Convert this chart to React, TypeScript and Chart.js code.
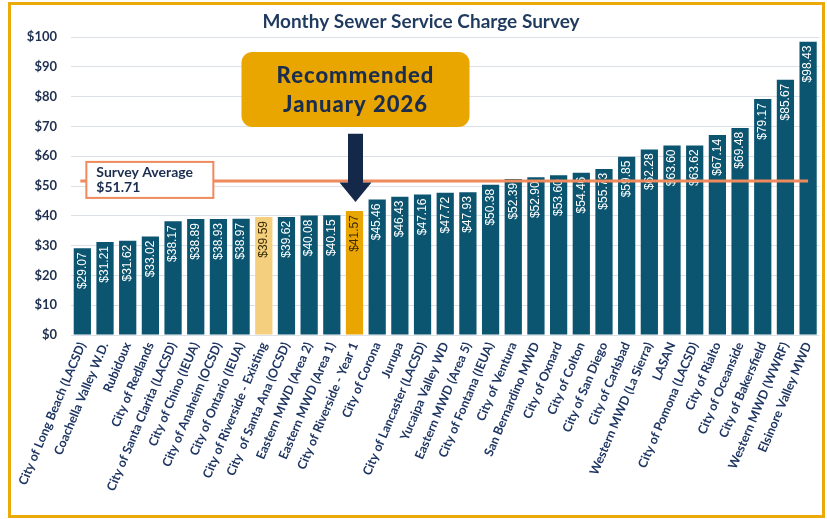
import React, { useEffect, useRef } from "react";
import { Chart, registerables } from "chart.js";

Chart.register(...registerables);

const categories: string[] = [
  "City of Long Beach (LACSD)",
  "Coachella Valley W.D.",
  "Rubidoux",
  "City of Redlands",
  "City of Santa Clarita (LACSD)",
  "City of Chino (IEUA)",
  "City of Anaheim (OCSD)",
  "City of Ontario (IEUA)",
  "City of Riverside - Existing",
  "City  of Santa Ana (OCSD)",
  "Eastern MWD (Area 2)",
  "Eastern MWD (Area 1)",
  "City of Riverside - Year 1",
  "City of Corona",
  "Jurupa",
  "City of Lancaster (LACSD)",
  "Yucaipa Valley WD",
  "Eastern MWD (Area 5)",
  "City of Fontana (IEUA)",
  "City of Ventura",
  "San Bernardino MWD",
  "City of Oxnard",
  "City of Colton",
  "City of San Diego",
  "City of Carlsbad",
  "Western MWD (La Sierra)",
  "LASAN",
  "City of Pomona (LACSD)",
  "City of Rialto",
  "City of Oceanside",
  "City of Bakersfield",
  "Western MWD (WWRF)",
  "Elsinore Valley MWD",
];

const charges: number[] = [
  29.07, 31.21, 31.62, 33.02, 38.17, 38.89, 38.93, 38.97, 39.59, 39.62, 40.08,
  40.15, 41.57, 45.46, 46.43, 47.16, 47.72, 47.93, 50.38, 52.39, 52.9, 53.6,
  54.46, 55.73, 59.85, 62.28, 63.6, 63.62, 67.14, 69.48, 79.17, 85.67, 98.43,
];

const existingIndex = 8;
const year1Index = 12;
const surveyAverage = 51.71;
const yMin = 0;
const yMax = 100;
const yStep = 10;

const titleText = "Monthy Sewer Service Charge Survey";
const averageLabel = ["Survey Average", "$51.71"];
const calloutLabel = ["Recommended", "January 2026"];
const calloutTop = 95;
const calloutBottom = 69.8;
const arrowTop = 67.5;
const arrowHeadStart = 51.2;
const arrowTip = 44.6;

const TEAL = "#0B5570";
const LIGHT_GOLD = "#F4CF7D";
const GOLD = "#EAA600";
const NAVY = "#1B2D4F";
const ORANGE = "#EE8A5C";
const GRID = "#DCE1E7";
const FRAME = "#EBAA0A";

const barColors = charges.map((_, i) =>
  i === existingIndex ? LIGHT_GOLD : i === year1Index ? GOLD : TEAL
);

const overlay = {
  id: "overlay",
  beforeDraw(chart: any) {
    const ctx = chart.ctx;
    ctx.save();
    ctx.fillStyle = "#FFFFFF";
    ctx.fillRect(0, 0, chart.width, chart.height);
    ctx.restore();
  },
  afterDatasetsDraw(chart: any) {
    const ctx = chart.ctx as CanvasRenderingContext2D;
    const xs = chart.scales.x;
    const ys = chart.scales.y;
    const meta = chart.getDatasetMeta(0);

    // value labels inside bars
    meta.data.forEach((bar: any, i: number) => {
      ctx.save();
      ctx.translate(bar.x, bar.y + 4);
      ctx.rotate(-Math.PI / 2);
      ctx.textAlign = "right";
      ctx.textBaseline = "middle";
      ctx.font = "12px 'Liberation Sans', Arial, sans-serif";
      ctx.fillStyle =
        i === existingIndex || i === year1Index ? "#3A2C08" : "#FFFFFF";
      ctx.fillText("$" + charges[i].toFixed(2), 0, 0);
      ctx.restore();
    });

    // average line
    const ay = ys.getPixelForValue(surveyAverage);
    const x0 = xs.getPixelForValue(0) - 2;
    const x1 = xs.getPixelForValue(categories.length - 1);
    ctx.save();
    ctx.strokeStyle = ORANGE;
    ctx.lineWidth = 3;
    ctx.beginPath();
    ctx.moveTo(x0, ay);
    ctx.lineTo(x1, ay);
    ctx.stroke();

    // survey average box
    const bl = xs.getPixelForValue(0) + 4;
    const bw = 127;
    const bt = ay - 19;
    const bh = 36;
    ctx.fillStyle = "#FFFFFF";
    ctx.fillRect(bl, bt, bw, bh);
    ctx.lineWidth = 2;
    ctx.strokeRect(bl, bt, bw, bh);
    ctx.fillStyle = NAVY;
    ctx.font = "bold 14px Lato, sans-serif";
    ctx.textAlign = "left";
    ctx.textBaseline = "middle";
    ctx.fillText(averageLabel[0], bl + 10, bt + 11);
    ctx.fillText(averageLabel[1], bl + 10, bt + 26);
    ctx.restore();

    // callout
    const cx = xs.getPixelForValue(year1Index) + 1;
    const ct = ys.getPixelForValue(calloutTop);
    const cb = ys.getPixelForValue(calloutBottom);
    const cw = 228;
    ctx.save();
    ctx.fillStyle = GOLD;
    ctx.beginPath();
    (ctx as any).roundRect(cx - cw / 2, ct, cw, cb - ct, 11);
    ctx.fill();
    ctx.fillStyle = NAVY;
    ctx.font = "900 22px Lato, sans-serif";
    (ctx as any).letterSpacing = "1px";
    ctx.textAlign = "center";
    ctx.textBaseline = "middle";
    const mid = (ct + cb) / 2;
    ctx.fillText(calloutLabel[0], cx, mid - 14);
    ctx.fillText(calloutLabel[1], cx, mid + 15);
    (ctx as any).letterSpacing = "0px";

    // arrow
    const at = ys.getPixelForValue(arrowTop);
    const ah = ys.getPixelForValue(arrowHeadStart);
    const tip = ys.getPixelForValue(arrowTip);
    ctx.fillStyle = "#14294A";
    ctx.beginPath();
    ctx.moveTo(cx - 7.5, at);
    ctx.lineTo(cx + 7.5, at);
    ctx.lineTo(cx + 7.5, ah);
    ctx.lineTo(cx + 16, ah);
    ctx.lineTo(cx, tip);
    ctx.lineTo(cx - 16, ah);
    ctx.lineTo(cx - 7.5, ah);
    ctx.closePath();
    ctx.fill();
    ctx.restore();
  },
  afterDraw(chart: any) {
    const ctx = chart.ctx as CanvasRenderingContext2D;
    ctx.save();
    ctx.fillStyle = "#1F3A5F";
    ctx.font = "bold 19px Lato, sans-serif";
    ctx.textAlign = "center";
    ctx.textBaseline = "middle";
    ctx.fillText(titleText, 421, 22);
    ctx.strokeStyle = FRAME;
    ctx.lineWidth = 3;
    ctx.strokeRect(9.5, 3.5, 814, 513);
    ctx.restore();
  },
};

export default function App() {
  const ref = useRef<HTMLCanvasElement | null>(null);
  useEffect(() => {
    if (!ref.current) return;
    const chart = new Chart(ref.current, {
      type: "bar",
      data: {
        labels: categories,
        datasets: [
          {
            data: charges,
            backgroundColor: barColors,
            barPercentage: 0.76,
            categoryPercentage: 1,
          },
        ],
      },
      options: {
        responsive: false,
        animation: false,
        devicePixelRatio: 1,
        layout: { padding: { left: 0, right: 6, top: 37, bottom: 0 } },
        plugins: {
          legend: { display: false },
          title: { display: false },
          tooltip: { enabled: false },
        },
        scales: {
          x: {
            grid: { display: false, drawTicks: false },
            border: { display: false },
            ticks: {
              autoSkip: false,
              minRotation: 67,
              maxRotation: 67,
              padding: 5,
              color: "#1F3662",
              font: { family: "Lato", weight: "bold", size: 12.5 },
            },
            afterFit(axis: any) {
              axis.height = 184;
            },
          },
          y: {
            min: yMin,
            max: yMax,
            grid: { color: GRID, drawTicks: false, lineWidth: 1 },
            border: { display: false },
            ticks: {
              stepSize: yStep,
              padding: 14,
              color: "#1F2F4F",
              font: { family: "Lato", weight: "bold", size: 13 },
              callback: (v: any) => "$" + v,
            },
            afterFit(axis: any) {
              axis.width = 71;
            },
          },
        },
      },
      plugins: [overlay],
    });
    return () => chart.destroy();
  }, []);
  return (
    <div style={{ position: "absolute", left: 0, top: 0, width: 827, height: 519 }}>
      <canvas ref={ref} width={827} height={519} style={{ display: "block" }} />
    </div>
  );
}
